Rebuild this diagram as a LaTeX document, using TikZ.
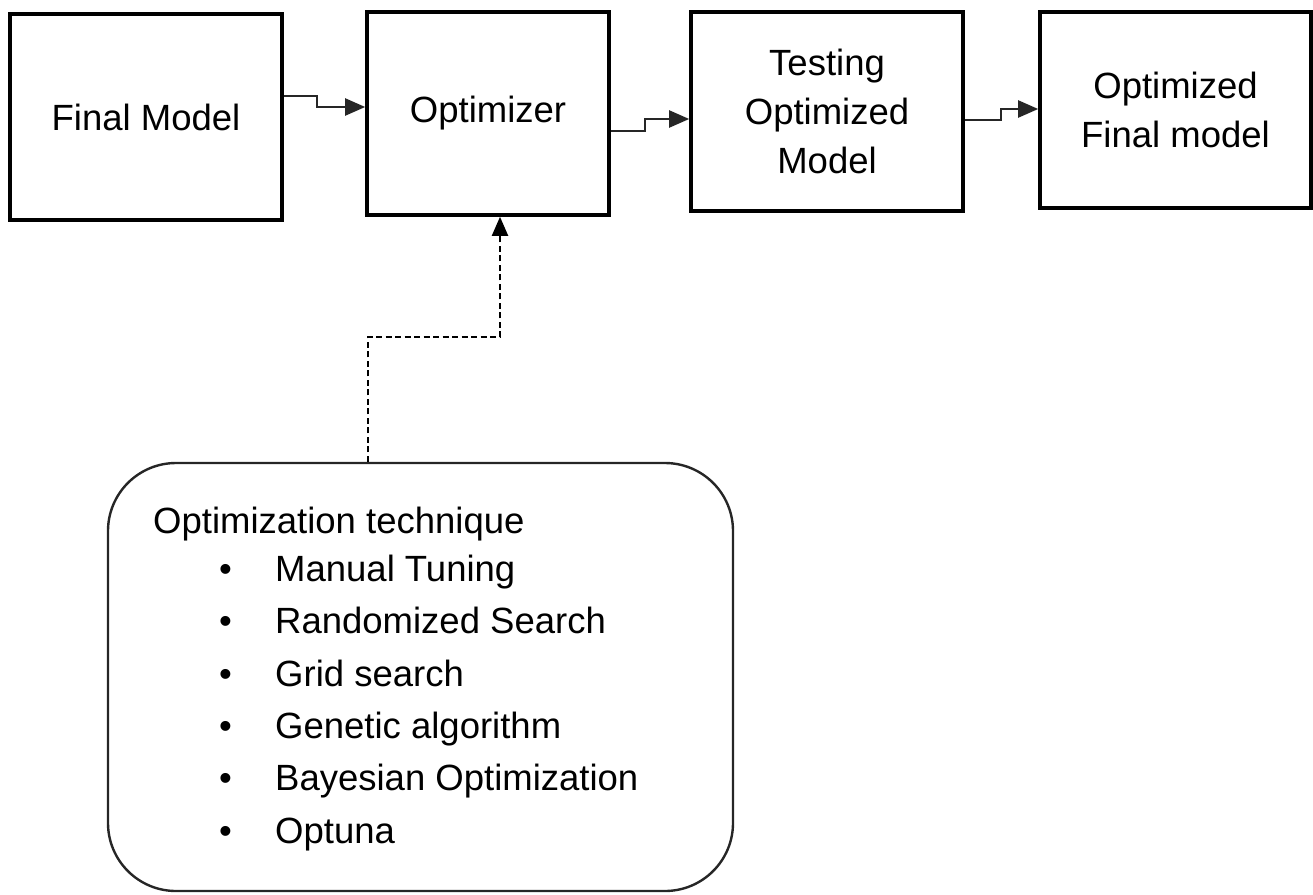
\documentclass[tikz,border=0pt]{standalone}
\usepackage{fontspec}
\setmainfont{Liberation Sans}
\usetikzlibrary{arrows.meta}

\tikzset{
  stage/.style={draw=black, line width=3.6pt, fill=white, align=center, inner sep=0pt,
                font=\fontsize{36.5}{49}\selectfont},
  flow/.style={draw=black!85, line width=2.2pt, -{Triangle[length=20pt,width=17pt]}},
  hint/.style={draw=black, line width=2pt, dash pattern=on 6pt off 3.5pt,
               -{Triangle[length=19pt,width=16pt]}},
  panel/.style={draw=black!85, line width=2.4pt, rounded corners=68pt, inner sep=0pt},
  itemtext/.style={anchor=base west, inner sep=0pt, font=\fontsize{36.5}{44}\selectfont},
}

\begin{document}
\begin{tikzpicture}[x=1pt, y=-1pt]
  \useasboundingbox (0,0) rectangle (1313,894);

  % pipeline stages
  \node[stage, minimum width=272pt, minimum height=206pt] (final) at (146,117) {Final Model};
  \node[stage, minimum width=242pt, minimum height=203pt] (opt) at (488,113.5) {Optimizer};
  \node[stage, minimum width=272pt, minimum height=199pt] (test) at (827,111.5) {Testing\\Optimized\\Model};
  \node[stage, minimum width=271pt, minimum height=196pt] (out) at (1175.5,110) {Optimized\\Final model};

  % technique panel
  \node[panel, minimum width=625pt, minimum height=428pt] (tech) at (420.5,677) {};

  \node[itemtext] (head) at (153,533) {Optimization technique};
  \foreach \y/\t [count=\i] in {581/Manual Tuning, 633.5/Randomized Search, 686/Grid search,
                                 738/Genetic algorithm, 790.5/Bayesian Optimization, 843/Optuna} {
    \node[itemtext] (bul\i) at (219,\y) {•};
    \node[itemtext] (item\i) at (275,\y) {\t};
  }

  % connectors between stages
  \draw[flow] ([yshift=21pt]final.east) -| ++(33pt,0) |- ([yshift=6.5pt]opt.west);
  \draw[flow] ([yshift=-17.5pt]opt.east) -| ++(34pt,0) |- ([yshift=-7.5pt]test.west);
  \draw[flow] ([yshift=-8.5pt]test.east) -| ++(36pt,0) |- ([yshift=1pt]out.west);

  % technique feeds the optimizer
  \coordinate (bend) at (368,337);
  \draw[hint] ([xshift=-52.5pt]tech.north) -- (bend) -| ([xshift=12pt]opt.south);
\end{tikzpicture}
\end{document}
